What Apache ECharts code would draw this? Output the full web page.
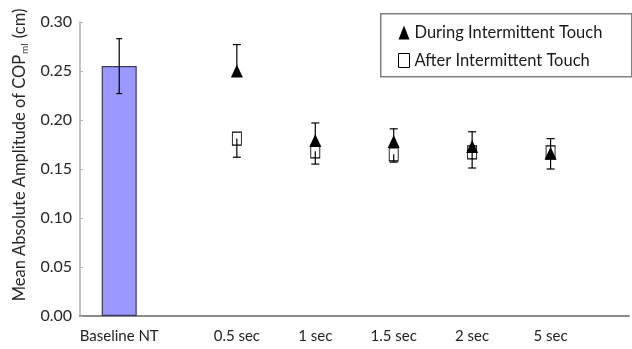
<!DOCTYPE html>
<html><head><meta charset="utf-8">
<script src="https://cdn.jsdelivr.net/npm/echarts@6/dist/echarts.min.js"></script>
<style>html,body{margin:0;padding:0;background:#fff}#c{width:632px;height:349px}</style>
</head><body><div id="c"></div>
<script>
// ---- data ----
const categoryLabels = ['Baseline NT', '0.5 sec', '1 sec', '1.5 sec', '2 sec', '5 sec'];
const categoryPos = [0.5, 2, 3, 4, 5, 6];
const baselineMean = [0.255];
const baselineErr = [0.028];
const duringMean = [0.250, 0.179, 0.178, 0.173, 0.166];
const duringErr = [0.027, 0.018, 0.013, 0.015, 0.015];
const afterMean = [0.181, 0.168, 0.165, 0.167, 0.167];
const afterErr = [0.019, 0.013, 0.008, 0.016, 0.017];
const yTicks = [0, 0.05, 0.10, 0.15, 0.20, 0.25, 0.30];

const FONT = 'Lato';
const chart = echarts.init(document.getElementById('c'), null, {renderer: 'canvas'});

const condPos = categoryPos.slice(1);
function errData(pos, mean, err, dir) {
  return pos.map((x, i) => [x, mean[i], err[i], dir]);
}
function errRender(capW) {
  return function (params, api) {
    const x = api.value(0), m = api.value(1), e = api.value(2), dir = api.value(3);
    const lo = dir <= 0 ? m - e : m;
    const hi = dir >= 0 ? m + e : m;
    const p1 = api.coord([x, lo]);
    const p2 = api.coord([x, hi]);
    const st = {stroke: '#000', lineWidth: 1.2};
    const children = [{type: 'line', shape: {x1: p1[0], y1: p1[1], x2: p2[0], y2: p2[1]}, style: st}];
    if (dir >= 0) children.push({type: 'line', shape: {x1: p2[0] - capW / 2, y1: p2[1], x2: p2[0] + capW / 2, y2: p2[1]}, style: st});
    if (dir <= 0) children.push({type: 'line', shape: {x1: p1[0] - capW / 2, y1: p1[1], x2: p1[0] + capW / 2, y2: p1[1]}, style: st});
    return {type: 'group', children};
  };
}
const labelMap = {};
categoryPos.forEach((p, i) => labelMap[p.toFixed(1)] = categoryLabels[i]);

chart.setOption({
  animation: false,
  backgroundColor: '#fff',
  textStyle: {fontFamily: FONT},
  grid: {left: 80, top: 22, width: 567, height: 294},
  graphic: [{
    type: 'rect', left: 380, top: 13, z: 1,
    shape: {width: 251, height: 63},
    style: {fill: '#fff', stroke: '#808080', lineWidth: 1.5}
  }],
  legend: {
    left: 393, top: 19, orient: 'vertical', itemGap: 11,
    itemWidth: 11, itemHeight: 14, z: 10,
    textStyle: {fontFamily: FONT, fontSize: 16.5, color: '#1a1a1a'},
    data: [
      {name: 'During Intermittent Touch', icon: 'triangle', itemStyle: {color: '#000', borderWidth: 0}},
      {name: 'After Intermittent Touch', icon: 'rect', itemStyle: {color: '#fff', borderColor: '#000', borderWidth: 1}}
    ]
  },
  xAxis: {
    type: 'value', min: 0, max: 7, interval: 0.5,
    axisLine: {lineStyle: {color: '#8a8a8a', width: 2}},
    axisTick: {show: false},
    splitLine: {show: false},
    axisLabel: {
      fontFamily: FONT, fontSize: 15, color: '#222', margin: 13,
      showMinLabel: true, showMaxLabel: true,
      formatter: v => labelMap[v.toFixed(1)] || ''
    }
  },
  yAxis: {
    type: 'value', min: 0, max: 0.30, interval: 0.05,
    axisLine: {show: true, lineStyle: {color: '#b0b0b0', width: 1.5}},
    axisTick: {show: true, inside: true, length: 3, lineStyle: {color: '#b0b0b0'}},
    splitLine: {show: false},
    axisLabel: {fontFamily: FONT, fontSize: 16, color: '#262626', margin: 8, formatter: v => v.toFixed(2)},
    name: '{a|Mean Absolute Amplitude of COP}{s|ml}{a| (cm)}',
    nameLocation: 'middle', nameGap: 50, nameRotate: 90,
    nameTextStyle: {
      fontFamily: FONT, color: '#262626', padding: [0, 0, 0, 28],
      rich: {
        a: {fontFamily: FONT, fontSize: 16.5, color: '#262626', lineHeight: 20},
        s: {fontFamily: FONT, fontSize: 10, color: '#262626', verticalAlign: 'bottom', lineHeight: 20, padding: [7, 1, 0, 1]}
      }
    }
  },
  series: [
    {
      name: 'Baseline', type: 'bar', barWidth: 35,
      data: categoryPos.slice(0, 1).map((x, i) => [x, baselineMean[i]]),
      itemStyle: {color: '#9999ff', borderColor: '#3a3a5a', borderWidth: 1.2},
      z: 2
    },
    {
      name: 'BaselineErr', type: 'custom', renderItem: errRender(6),
      data: errData(categoryPos.slice(0, 1), baselineMean, baselineErr, 0), z: 5
    },
    {
      name: 'After Intermittent Touch', type: 'scatter', symbol: 'rect', symbolSize: [9, 13],
      data: condPos.map((x, i) => [x, afterMean[i]]),
      itemStyle: {color: '#fff', borderColor: '#000', borderWidth: 1, opacity: 1}, z: 3
    },
    {
      name: 'During Intermittent Touch', type: 'scatter', symbol: 'triangle', symbolSize: [12, 13],
      data: condPos.map((x, i) => [x, duringMean[i]]),
      itemStyle: {color: '#000', opacity: 1}, z: 4
    },
    {
      name: 'AfterErr', type: 'custom', renderItem: errRender(8),
      data: errData(condPos, afterMean, afterErr, -1), z: 5
    },
    {
      name: 'DuringErr', type: 'custom', renderItem: errRender(8),
      data: errData(condPos, duringMean, duringErr, 1), z: 5
    }
  ]
});
</script>
</body></html>
